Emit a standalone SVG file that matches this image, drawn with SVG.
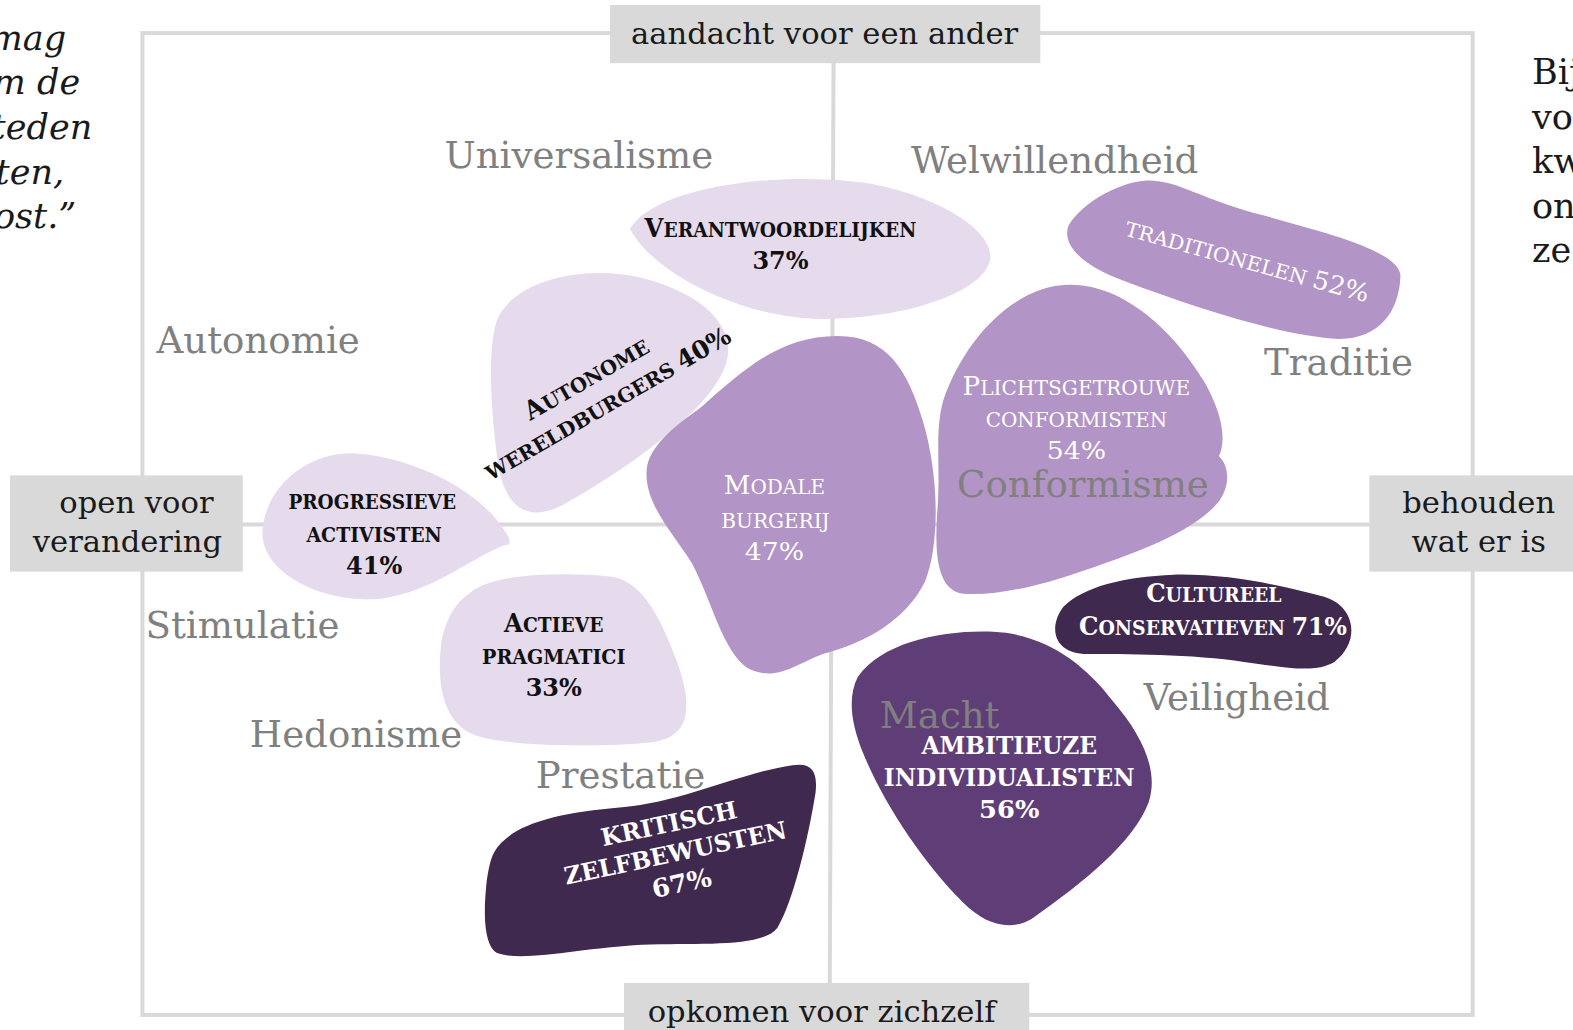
<svg xmlns="http://www.w3.org/2000/svg" width="1573" height="1030" viewBox="0 0 1573 1030">
<style>
  text { font-family: "DejaVu Serif", "Liberation Serif", serif; }
  .grid { stroke: #d9d9d9; stroke-width: 4; fill: none; }
  .box { fill: #d9d9d9; }
  .axis { font-size: 30.5px; fill: #1a1a1a; text-anchor: middle; }
  .val { font-size: 37px; fill: #808080; }
  .quote { font-size: 35px; font-style: italic; fill: #1a1a1a; text-anchor: end; }
  .side { font-size: 35px; fill: #1a1a1a; }
  .light { fill: #e6dbec; }
  .mid { fill: #b294c6; }
  .dark { fill: #5f3e78; }
  .darkest { fill: #40294f; }
  .lbl { font-size: 20px; font-weight: bold; text-anchor: middle; }
  .reg { font-weight: normal; }
  .big { font-size: 26px; }
  .pct { font-size: 25px; }
  .blk { fill: #111111; }
  .wht { fill: #ffffff; }
</style>
<g transform="scale(1.0032 1.0029)">
<g id="quote-left">
  <text class="quote" x="66" y="50">mag</text>
  <text class="quote" x="80" y="94">m de</text>
  <text class="quote" x="92" y="139">teden</text>
  <text class="quote" x="64" y="183">ten,</text>
  <text class="quote" x="76" y="227">ost.”</text>
</g>
<g id="text-right">
  <text class="side" x="1527" y="84">Bij</text>
  <text class="side" x="1527" y="129">vo</text>
  <text class="side" x="1527" y="173">kw</text>
  <text class="side" x="1527" y="217">on</text>
  <text class="side" x="1527" y="261">ze</text>
</g>

<g id="connectors">
  <rect class="grid" x="142" y="33" width="1326" height="979"/>
  <line class="grid" x1="142" y1="523" x2="1468" y2="523"/>
  <line class="grid" x1="831" y1="33" x2="827" y2="1012"/>
</g>

<g id="axis-top">
  <rect class="box" x="608" y="5" width="429" height="58"/>
  <text class="axis" x="822" y="44">aandacht voor een ander</text>
</g>
<g id="axis-bottom">
  <rect class="box" x="622" y="980" width="404" height="50"/>
  <text class="axis" x="819" y="1019">opkomen voor zichzelf</text>
</g>
<g id="axis-left">
  <rect class="box" x="10" y="474" width="232" height="96"/>
  <text class="axis" x="136" y="512">open voor</text>
  <text class="axis" x="127" y="550">verandering</text>
</g>
<g id="axis-right">
  <rect class="box" x="1365" y="474" width="208" height="96"/>
  <text class="axis" x="1474" y="512">behouden</text>
  <text class="axis" x="1474" y="550">wat er is</text>
</g>

<g id="verantwoordelijken">
  <path class="light" d="M 628 228 C 650 190, 760 170, 860 182 C 930 193, 990 228, 987 258 C 982 292, 900 318, 820 318 C 740 318, 650 272, 628 228 Z"/>
  <text class="lbl blk" x="778" y="236" textLength="271" lengthAdjust="spacingAndGlyphs"><tspan class="big">V</tspan>ERANTWOORDELIJKEN</text>
  <text class="lbl pct blk" x="778" y="268" textLength="56" lengthAdjust="spacingAndGlyphs">37%</text>
</g>

<g id="autonome-wereldburgers">
  <path class="light" d="M 495 320 C 510 282, 575 264, 635 276 C 695 290, 735 322, 724 362 C 710 408, 625 468, 562 503 C 522 524, 500 502, 495 452 C 489 402, 486 352, 495 320 Z"/>
  <g transform="translate(598 389) rotate(-30)">
    <text class="lbl blk" x="-6" y="-8" textLength="139" lengthAdjust="spacingAndGlyphs"><tspan class="big">A</tspan>UTONOME</text>
    <text class="lbl blk" x="0" y="24" textLength="279" lengthAdjust="spacingAndGlyphs">WERELDBURGERS <tspan class="pct">40%</tspan></text>
  </g>
</g>

<g id="progressieve-activisten">
  <path class="light" d="M 262 525 C 268 482, 308 452, 350 452 C 402 454, 468 482, 498 522 C 506 534, 514 543, 502 544 C 470 556, 432 590, 380 597 C 320 602, 256 570, 262 525 Z"/>
  <text class="lbl blk" x="371" y="508" textLength="167" lengthAdjust="spacingAndGlyphs">PROGRESSIEVE</text>
  <text class="lbl blk" x="373" y="540" textLength="135" lengthAdjust="spacingAndGlyphs">ACTIVISTEN</text>
  <text class="lbl pct blk" x="373" y="572" textLength="56" lengthAdjust="spacingAndGlyphs">41%</text>
</g>

<g id="actieve-pragmatici">
  <path class="light" d="M 470 590 C 492 572, 560 570, 610 575 C 642 580, 660 620, 675 660 C 690 702, 690 735, 650 740 C 600 745, 520 745, 480 735 C 440 725, 435 680, 440 640 C 445 615, 455 600, 470 590 Z"/>
  <text class="lbl blk" x="552" y="630" textLength="99" lengthAdjust="spacingAndGlyphs"><tspan class="big">A</tspan>CTIEVE</text>
  <text class="lbl blk" x="552" y="662" textLength="143" lengthAdjust="spacingAndGlyphs">PRAGMATICI</text>
  <text class="lbl pct blk" x="552" y="694" textLength="56" lengthAdjust="spacingAndGlyphs">33%</text>
</g>

<g id="modale-burgerij">
  <path class="mid" d="M 700 405 C 745 365, 780 335, 835 335 C 885 335, 905 370, 920 420 C 935 470, 938 540, 922 580 C 902 620, 860 642, 820 652 C 790 664, 772 680, 745 666 C 720 648, 710 600, 690 562 C 670 530, 640 500, 645 465 C 650 440, 680 420, 700 405 Z"/>
  <text class="lbl reg wht" x="772" y="493" textLength="101" lengthAdjust="spacingAndGlyphs"><tspan class="big">M</tspan>ODALE</text>
  <text class="lbl reg wht" x="773" y="526" textLength="108" lengthAdjust="spacingAndGlyphs">BURGERIJ</text>
  <text class="lbl reg pct wht" x="772" y="558" textLength="59" lengthAdjust="spacingAndGlyphs">47%</text>
</g>

<g id="plichtsgetrouwe-conformisten">
  <path class="mid" d="M 940 400 C 960 340, 1010 285, 1065 284 C 1120 283, 1170 330, 1200 380 C 1220 415, 1222 440, 1215 455 C 1226 465, 1226 485, 1215 500 C 1195 525, 1150 545, 1100 562 C 1050 580, 1000 595, 960 592 C 930 588, 932 540, 935 500 C 937 460, 932 430, 940 400 Z"/>
  <text class="lbl reg wht" x="1073" y="394" textLength="227" lengthAdjust="spacingAndGlyphs"><tspan class="big">P</tspan>LICHTSGETROUWE</text>
  <text class="lbl reg wht" x="1073" y="426" textLength="181" lengthAdjust="spacingAndGlyphs">CONFORMISTEN</text>
  <text class="lbl reg pct wht" x="1073" y="458" textLength="59" lengthAdjust="spacingAndGlyphs">54%</text>
</g>

<g id="traditionelen">
  <path class="mid" d="M 1065 225 C 1080 200, 1120 180, 1145 180 C 1175 180, 1200 200, 1260 215 C 1320 232, 1395 250, 1396 275 C 1395 310, 1375 338, 1335 338 C 1280 335, 1200 310, 1120 280 C 1080 265, 1058 245, 1065 225 Z"/>
  <text class="lbl reg wht" transform="translate(1241 268) rotate(15.5)" textLength="251" lengthAdjust="spacingAndGlyphs">TRADITIONELEN <tspan class="pct">52%</tspan></text>
</g>

<g id="cultureel-conservatieven">
  <path class="darkest" d="M 1060 605 C 1080 585, 1120 575, 1170 573 C 1230 572, 1280 585, 1320 595 C 1352 605, 1356 640, 1330 660 C 1310 672, 1280 665, 1240 660 C 1190 652, 1120 652, 1080 652 C 1050 650, 1045 625, 1060 605 Z"/>
  <text class="lbl wht" x="1210" y="600" textLength="135" lengthAdjust="spacingAndGlyphs"><tspan class="big">C</tspan>ULTUREEL</text>
  <text class="lbl wht" x="1209" y="633" textLength="267" lengthAdjust="spacingAndGlyphs"><tspan class="big">C</tspan>ONSERVATIEVEN <tspan class="pct">71%</tspan></text>
</g>

<g id="ambitieuze-individualisten">
  <path class="dark" d="M 855 675 C 880 640, 940 628, 990 630 C 1040 632, 1080 660, 1110 700 C 1140 735, 1155 770, 1145 800 C 1130 840, 1080 880, 1030 915 C 1010 928, 985 925, 960 900 C 920 860, 880 800, 860 750 C 848 720, 845 695, 855 675 Z"/>
  <text class="lbl wht" x="1006" y="752" textLength="175" lengthAdjust="spacingAndGlyphs" style="font-size:24px">AMBITIEUZE</text>
  <text class="lbl wht" x="1006" y="784" textLength="250" lengthAdjust="spacingAndGlyphs" style="font-size:24px">INDIVIDUALISTEN</text>
  <text class="lbl pct wht" x="1006" y="816" textLength="60" lengthAdjust="spacingAndGlyphs">56%</text>
</g>

<g id="kritisch-zelfbewusten">
  <path class="darkest" d="M 500 840 C 520 820, 560 810, 620 805 C 680 800, 740 770, 790 763 C 810 760, 815 770, 813 790 C 805 840, 790 900, 775 925 C 760 945, 700 940, 640 942 C 580 945, 520 960, 495 950 C 480 940, 483 900, 485 880 C 488 860, 490 850, 500 840 Z"/>
  <g transform="translate(673 850) rotate(-12)">
    <text class="lbl wht" x="0" y="-21" textLength="138" lengthAdjust="spacingAndGlyphs" style="font-size:24px">KRITISCH</text>
    <text class="lbl wht" x="0" y="9" textLength="226" lengthAdjust="spacingAndGlyphs" style="font-size:24px">ZELFBEWUSTEN</text>
    <text class="lbl pct wht" x="0" y="40" textLength="60" lengthAdjust="spacingAndGlyphs">67%</text>
  </g>
</g>

<g id="values">
  <text class="val" x="443" y="168">Universalisme</text>
  <text class="val" x="908" y="173">Welwillendheid</text>
  <text class="val" x="156" y="352">Autonomie</text>
  <text class="val" x="1260" y="374">Traditie</text>
  <text class="val" x="954" y="496">Conformisme</text>
  <text class="val" x="145" y="636">Stimulatie</text>
  <text class="val" x="1140" y="708">Veiligheid</text>
  <text class="val" x="877" y="726">Macht</text>
  <text class="val" x="249" y="745">Hedonisme</text>
  <text class="val" x="534" y="786">Prestatie</text>
</g>
</g>
</svg>
